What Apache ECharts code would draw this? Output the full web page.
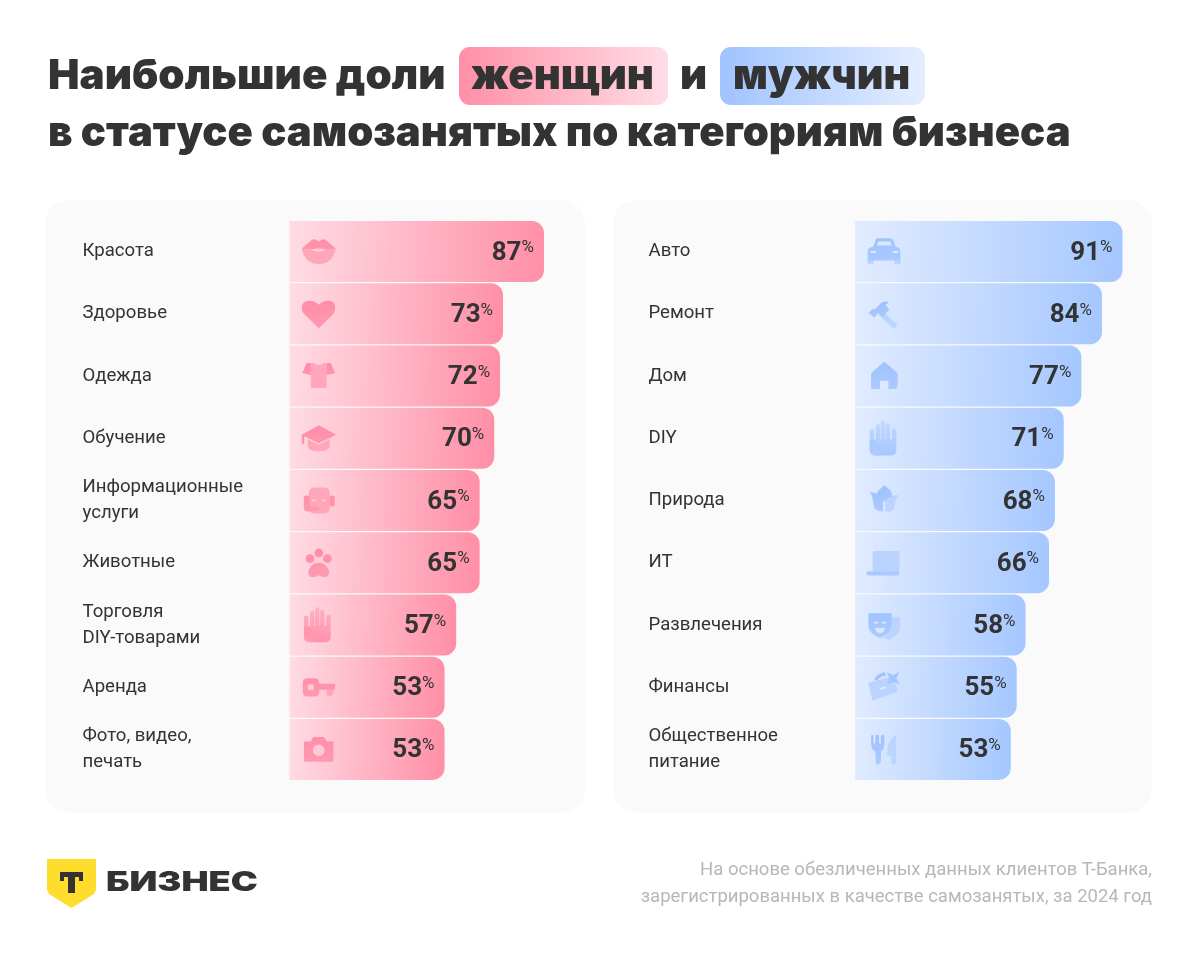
<!DOCTYPE html>
<html><head><meta charset="utf-8"><style>html,body{margin:0;padding:0;background:#fff}#c{width:1200px;height:955px}</style>
<script src="https://cdn.jsdelivr.net/npm/echarts@6/dist/echarts.min.js"></script></head><body><div id="c"></div>
<script>
const womenCategories = ['Красота','Здоровье','Одежда','Обучение','Информационные\nуслуги','Животные','Торговля\nDIY-товарами','Аренда','Фото, видео,\nпечать'];
const womenValues = [87,73,72,70,65,65,57,53,53];
const menCategories = ['Авто','Ремонт','Дом','DIY','Природа','ИТ','Развлечения','Финансы','Общественное\nпитание'];
const menValues = [91,84,77,71,68,66,58,55,53];

// icon glyph helpers (40x40 box)
const rr=(x,y,w,h,r)=>`M${x+r} ${y}L${x+w-r} ${y}Q${x+w} ${y} ${x+w} ${y+r}L${x+w} ${y+h-r}Q${x+w} ${y+h} ${x+w-r} ${y+h}L${x+r} ${y+h}Q${x} ${y+h} ${x} ${y+h-r}L${x} ${y+r}Q${x} ${y} ${x+r} ${y}Z`;
const circ=(x,y,r)=>`M${x-r} ${y}A${r} ${r} 0 1 1 ${x+r} ${y}A${r} ${r} 0 1 1 ${x-r} ${y}Z`;
const handBase=rr(11.3,5.7,4.4,20,2)+rr(16.3,2.3,4.4,22,2)+rr(21.3,5,4.4,20,2)+rr(27.6,10,4.4,16,2)+rr(5.3,10.7,4.4,16,2)+rr(5.3,20.7,26.7,16.6,6);
const handDark='M5.3 22L9.7 22Q15 25 15.5 37.3L11 37.3Q5.3 37 5.3 31Z';
const womenIcons=[
 {b:'M3 17Q6 32.5 20 32.5Q34 32.5 37 17L28 18Q20 22 12 18Z',a:'M3 17L13 8.5Q15 7 17 8L20 10L23 8Q25 7 27 8.5L37 17L28 18Q20 16 12 18Z',c:'M15.5 18Q20 16.8 24.5 18Q20 21.5 15.5 18Z'},
 {a:'M20 34.5L6 21Q3 18 3 14.5Q3 7 10.5 7Q16 7 20 11Q24 7 29.5 7Q37 7 36.5 14.5Q36.5 18 34 21Z'},
 {b:'M12 7L15 7Q20 11 25 7L28 7L28 30Q28 32 26 32L14 32Q12 32 12 30Z',a:'M12 7L8 7L3.5 17L12 19ZM28 7L32 7L36.5 17L28 19Z'},
 {b:'M9 21L20 26.5L31 21L31 27Q31 33 20 33Q9 33 9 27Z',a:'M20 7L37.5 16.5L20 25L5.5 18L5.5 26L3 26L3 16.5Z'},
 {b:rr(10,7,21,26,6),a:rr(5,15,6,14,2)+rr(31,15,5,11,2)+'M5 26L20 27L20 30L9 31Q5 31 5 27Z',c:rr(13,19,4,2,1)+rr(23,19,4,2,1)},
 {a:circ(20,10.3,4.4)+circ(11.3,16,4.4)+circ(28.7,16,4.4)+'M20 20C25 20 27.5 23 29 25.5C32 30 30 34.5 26 34.5C23.5 34.5 22 33.5 20 32.5C18 33.5 16.5 34.5 14 34.5C10 34.5 8 30 11 25.5C12.5 23 15 20 20 20Z'},
 {d:handBase,a:handDark},
 {b:'M28 22L34.7 22L34.7 25Q34 29.3 29 29.3L28 29.3Z',a:rr(4,11,16.5,18.3,5)+'M18 16.7L36.3 16.7L36.3 22.7L18 22.7Z',c:rr(9,17,6,6,1.5)},
 {a:'M5.3 12L12 12L14 8.6Q14.5 7.7 15.5 7.7L24.5 7.7Q25.5 7.7 26 8.6L28 12L34.7 12L34.7 30Q34.7 32.3 32.5 32.3L5.3 32.3Z',c:circ(20,21,5.8)}
];
const menIcons=[
 {b:rr(3.3,26,6,6.3,1)+rr(30,26,6,6.3,1),a:'M12 7Q13 6.7 14 6.7L26 6.7Q28 6.7 29 9L31 15Q36 16 36 20L36 29L3.3 29L3.3 20Q3.3 16 9 15L11 9Q11 8 12 7Z',c:'M12.5 14L14 10L26 10L27.5 14Z'+rr(6,19.5,6,2,1)+rr(28,19.5,6,2,1)},
 {b:'M18 17L32.5 30.5Q33 31.5 32 32.5L30.5 34.5Q29.5 35 28.5 34L14 21Z',a:'M4 19L8.5 15L10 16L17 9Q21 6.5 24.5 9L21 11L25 16L18 23L14 19L10 24Z'},
 {a:'M20 5.7L32 16Q33.3 17 33.3 19L33.3 29Q33.3 33 29 33L6.7 33L6.7 19Q6.7 17 8 16Z',c:rr(15.7,24.7,8.3,8.5,0)},
 {d:handBase,a:handDark},
 {b:'M34.5 15Q25 14 21 20L21 31L25 31Q30 31 30.5 24Q31 18 34.5 15Z',a:'M20 4.7L26 10Q28 12.5 27.5 16Q22 17 20 22Q18 17 12.5 15Q12 12 14 10ZM5.7 11.5Q13 11.5 18.5 18L18.5 31Q10 31 9 24Q8.5 16 5.7 11.5Z'},
 {b:rr(8.3,8.3,26.7,20.4,2),a:rr(2,28.5,33,4.2,2)},
 {b:'M27.3 11.7L35.7 11.7L35.7 24Q34 31 24 34.7L19 32.5Q27 28 27.3 21Z',a:'M4 8.3L27.3 8.3L27.3 21Q27 28 15.6 33.3Q4 28 4 21Z',c:rr(9.5,17,4.5,1.5,.7)+rr(17.5,17,4.5,1.5,.7)+'M10.5 22.5Q15.6 24 20.5 22.5Q19.5 28 15.5 28Q11.5 28 10.5 22.5Z'},
 {b:'M4 17Q4 15.5 5.5 15L26 10L33 21Q33.5 24 31.5 25L8 33.7Z',a:'M35 4.7L32 11L35 17L28.5 14.5L22.5 17L25 11L22.5 5L28.5 8ZM10 12.5Q11 7 20 5L22 8Q14 9.5 13 13.5Z',c:'M15 21L21 19L21.5 21L15.5 23Z'},
 {b:'M31.7 5.7L31.7 33Q31.7 35 30 35L28.5 35Q27 35 27 33L27 26L22.7 26Q22.7 11 31.7 5.7Z',a:'M6.7 6Q7.5 5 9 6L9 14L11 14L11 5.7L14.5 5.7L14.5 14L16.5 14L16.5 6Q18 5 20 6L20 14Q20 20 16.5 22L16.5 33Q15 35 11.5 35L11 22Q6.7 20 6.7 14Z'}
];

const iconAnchor=10;
const lin=(x2,y2,c1,c2,x=0,y=0)=>({type:'linear',x,y,x2,y2,colorStops:[{offset:0,color:c1},{offset:1,color:c2}]});
const anchor='M0 0L0 0M40 40L40 40';
function iconSeries(icons,grid,key,color,z){
  return {type:'scatter',xAxisIndex:grid,yAxisIndex:grid,silent:true,z,symbolSize:40,itemStyle:{color,opacity:1},
    data:icons.map((ic,i)=>ic[key]?{value:[iconAnchor,i],symbol:'path://'+anchor+ic[key]}:null).filter(Boolean)};
}
function barSeries(values,grid,c1,c2){
  return {type:'bar',xAxisIndex:grid,yAxisIndex:grid,barWidth:61,z:2,data:values,silent:true,
    itemStyle:{color:lin(1,0.12,c1,c2),borderRadius:[0,12,12,0]},
    label:{show:true,position:'insideRight',distance:10,offset:[0,1.5],formatter:p=>`{n|${p.value}}{p|%}`,
      rich:{n:{fontFamily:'Roboto',fontSize:26,fontWeight:700,color:'#333333'},
            p:{fontFamily:'Roboto',fontSize:17,fontWeight:400,color:'#333333',padding:[0,0,10,0]}}}};
}
const axisY=(data,grid)=>({type:'category',gridIndex:grid,inverse:true,data,axisLine:{show:false},axisTick:{show:false},
  axisLabel:{align:'left',margin:grid?206.5:207,padding:[4,0,0,0],fontFamily:'Roboto',fontSize:18.6,lineHeight:26,color:'#333333'}});
const axisX=(grid)=>({type:'value',gridIndex:grid,min:0,max:100,show:false});

const FONT='Inter';
const titleText=(text,x,y,scaleX=1)=>({type:'text',x,y,scaleX,z:10,style:{text,fontFamily:FONT,fontWeight:900,fontSize:41.8,fill:'#333333',verticalAlign:'middle'}});
const panel=(x,w)=>({type:'rect',z:0,shape:{x,y:200,width:w,height:613,r:24},style:{fill:'#fafafa'}});
const chip=(x,w,c1,c2)=>({type:'rect',z:1,shape:{x,y:47,width:w,height:58,r:11},style:{fill:lin(1,0,c1,c2)}});

const chart=echarts.init(document.getElementById('c'),null,{renderer:'canvas'});
chart.setOption({animation:false,backgroundColor:'#ffffff',
 grid:[{left:289.5,top:220.5,width:292.5,height:560},{left:855,top:220.5,width:294,height:560}],
 xAxis:[axisX(0),axisX(1)],yAxis:[axisY(womenCategories,0),axisY(menCategories,1)],
 graphic:{elements:[
  panel(45,540),panel(613,539),chip(459,209,'#ff8fa7','#ffdde6'),chip(720,205,'#9fc3ff','#e4eeff'),
  titleText('Наибольшие доли',48,76,1.007),titleText('женщин',471,76),titleText('и',680,76),titleText('мужчин',733,76,0.984),
  titleText('в статусе самозанятых по категориям бизнеса',48,133),
  {type:'polygon',z:5,shape:{points:[[47,859],[96,859],[96,890],[94,894],[71.5,908],[49,894],[47,890]]},style:{fill:'#ffdd2d'}},
  {type:'polygon',z:6,shape:{points:[[60,872],[83,872],[83,881],[79,881],[79,877],[75,877],[75,893],[68,893],[68,877],[64,877],[64,881],[60,881]]},style:{fill:'#333333'}},
  {type:'text',z:6,x:106,y:883,scaleX:1.34,style:{text:'БИЗНЕС',fontFamily:'Inter',fontWeight:900,fontSize:27,fill:'#333333',verticalAlign:'middle'}},
  {type:'text',z:6,x:1152,y:870,style:{text:'На основе обезличенных данных клиентов Т-Банка,',fontFamily:'Roboto',fontSize:18.5,fill:'#b7b7b7',align:'right',verticalAlign:'middle'}},
  {type:'text',z:6,x:1152,y:897,style:{text:'зарегистрированных в качестве самозанятых, за 2024 год',fontFamily:'Roboto',fontSize:18.5,fill:'#b7b7b7',align:'right',verticalAlign:'middle'}}
 ]},
 series:[
  barSeries(womenValues,0,'#ffdce5','#ff8fa7'),barSeries(menValues,1,'#e1ecff','#a5c7ff'),
  iconSeries(womenIcons,0,'d',lin(0,1,'#ffb3c6','#ff8fa8'),4),iconSeries(womenIcons,0,'b','#ffa6bb',5),iconSeries(womenIcons,0,'a',lin(0,1,'#ff8aa4','#ff9db4'),6),iconSeries(womenIcons,0,'c','#ffc9d6',7),
  iconSeries(menIcons,1,'d',lin(0,1,'#c7dbff','#a3c4ff'),4),iconSeries(menIcons,1,'b','#bad3ff',5),iconSeries(menIcons,1,'a',lin(0,1,'#9cc0ff','#b0ccff'),6),iconSeries(menIcons,1,'c','#dde9ff',7)
 ]});
</script></body></html>
